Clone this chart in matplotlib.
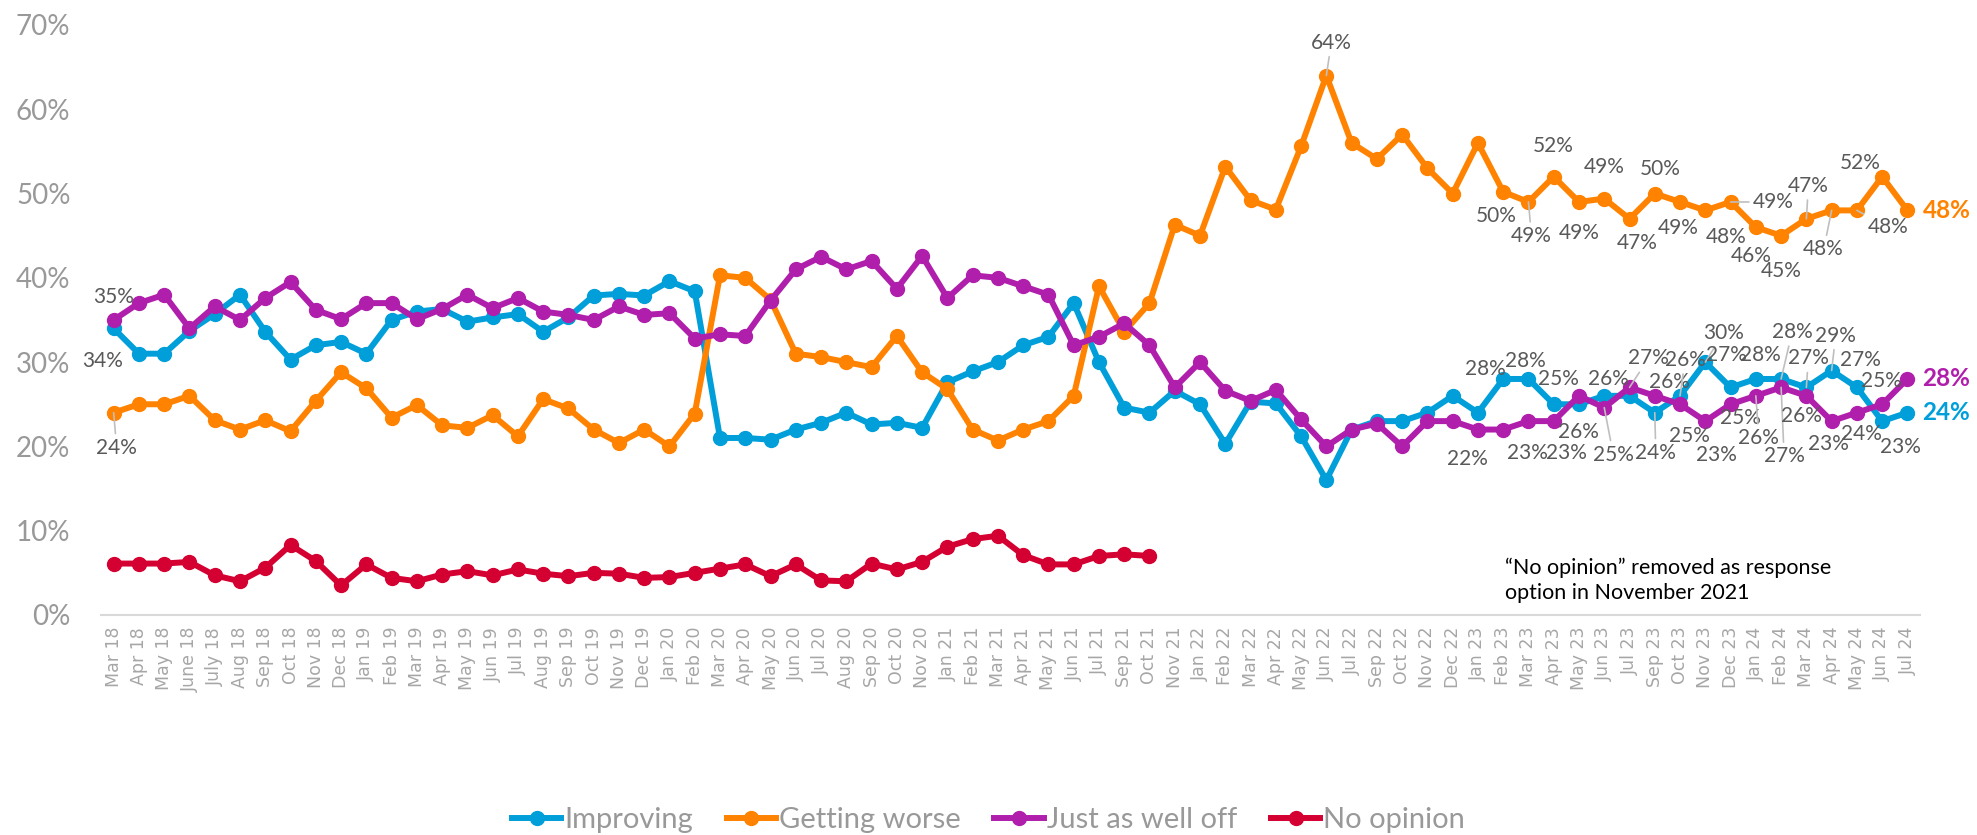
import numpy as np
import matplotlib
matplotlib.use("Agg")
import matplotlib.pyplot as plt
from matplotlib.lines import Line2D

months = ["Mar 18", "Apr 18", "May 18", "June 18", "July 18", "Aug 18", "Sep 18", "Oct 18", "Nov 18", "Dec 18",
          "Jan 19", "Feb 19", "Mar 19", "Apr 19", "May 19", "Jun 19", "Jul 19", "Aug 19", "Sep 19", "Oct 19",
          "Nov 19", "Dec 19", "Jan 20", "Feb 20", "Mar 20", "Apr 20", "May 20", "Jun 20", "Jul 20", "Aug 20",
          "Sep 20", "Oct 20", "Nov 20", "Jan 21", "Feb 21", "Mar 21", "Apr 21", "May 21", "Jun 21", "Jul 21",
          "Sep 21", "Oct 21", "Nov 21", "Jan 22", "Feb 22", "Mar 22", "Apr 22", "May 22", "Jun 22", "Jul 22",
          "Sep 22", "Oct 22", "Nov 22", "Dec 22", "Jan 23", "Feb 23", "Mar 23", "Apr 23", "May 23", "Jun 23",
          "Jul 23", "Sep 23", "Oct 23", "Nov 23", "Dec 23", "Jan 24", "Feb 24", "Mar 24", "Apr 24", "May 24",
          "Jun 24", "Jul 24"]

improving = [34, 31, 31, 33.7, 35.7, 38, 33.6, 30.3, 32, 32.4,
             31, 35, 36, 36.3, 34.8, 35.3, 35.7, 33.6, 35.3, 37.9,
             38.1, 37.9, 39.6, 38.4, 21, 21, 20.8, 22, 22.8, 24,
             22.6, 22.8, 22.2, 27.6, 28.9, 30, 32, 33, 37, 30,
             24.6, 24, 26.6, 25, 20.3, 25.3, 25.1, 21.2, 16, 22,
             23, 23, 24, 26, 24, 28, 28, 25, 25, 26,
             26, 24, 26, 30, 27, 28, 28, 27, 29, 27,
             23, 24]

getting_worse = [24, 25, 25, 26, 23.1, 22, 23.1, 21.8, 25.4, 28.8,
                 26.9, 23.4, 24.9, 22.5, 22.2, 23.7, 21.2, 25.6, 24.5, 22,
                 20.4, 22, 20, 23.9, 40.3, 40, 37.4, 31, 30.6, 30,
                 29.4, 33.1, 28.8, 26.8, 22, 20.7, 22, 23, 26, 39,
                 33.6, 37, 46.3, 45, 53.2, 49.2, 48.1, 55.6, 64, 56,
                 54.1, 57, 53, 50, 56, 50.2, 49, 52, 49, 49.4,
                 47, 50, 49, 48, 49, 46, 45, 47, 48, 48,
                 52, 48]

just_as_well = [35, 37, 38, 34, 36.6, 35, 37.6, 39.5, 36.2, 35.1,
                37, 37, 35.1, 36.3, 38, 36.4, 37.6, 36, 35.6, 35,
                36.6, 35.6, 35.8, 32.8, 33.3, 33.1, 37.3, 41, 42.5, 41,
                42, 38.7, 42.6, 37.6, 40.3, 40, 39, 38, 32, 33,
                34.6, 32, 27, 30, 26.6, 25.4, 26.7, 23.2, 20, 22,
                22.7, 20, 23, 23, 22, 22, 23, 23, 26, 24.6,
                27, 26, 25, 23, 25, 26, 27, 26, 23, 24,
                25, 28]

# "No opinion" dropped after Oct 21
no_opinion = [6.1, 6.1, 6.1, 6.3, 4.7, 4, 5.6, 8.3, 6.4, 3.5,
              6, 4.4, 4, 4.8, 5.2, 4.7, 5.4, 4.9, 4.6, 5,
              4.9, 4.4, 4.5, 5, 5.5, 6, 4.6, 6, 4.1, 4,
              6.1, 5.4, 6.3, 8.1, 9, 9.4, 7.1, 6, 6, 7,
              7.2, 7]

series = {
    "Improving": (improving, "#009FDA"),
    "Getting worse": (getting_worse, "#FF8300"),
    "Just as well off": (just_as_well, "#B01FAC"),
    "No opinion": (no_opinion, "#D50032"),
}

# data labels: (series, month index, dx px, dy px downwards, leader line)
labels = [
    ("Just as well off", 0, 0, -23, False),
    ("Improving", 0, -11, 33, False),
    ("Getting worse", 0, 3, 35, True),
    ("Getting worse", 48, 5, -33, True),
    ("Getting worse", 55, -7, 24, False),
    ("Getting worse", 56, 3, 34, True),
    ("Getting worse", 57, 0, -31, False),
    ("Getting worse", 58, 0, 31, False),
    ("Getting worse", 59, 0, -32, False),
    ("Getting worse", 60, 8, 24, False),
    ("Getting worse", 61, 5, -25, False),
    ("Getting worse", 62, -2, 26, False),
    ("Getting worse", 63, 21, 27, False),
    ("Getting worse", 64, 43, 0, True),
    ("Getting worse", 65, -5, 29, False),
    ("Getting worse", 66, 0, 35, False),
    ("Getting worse", 67, 2, -33, True),
    ("Getting worse", 68, -8, 39, True),
    ("Getting worse", 69, 31, 17, True),
    ("Getting worse", 70, -22, -14, False),
    ("Just as well off", 54, -10, 29, False),
    ("Improving", 55, -18, -10, False),
    ("Improving", 56, -3, -18, False),
    ("Improving", 57, 5, -25, False),
    ("Improving", 59, 4, -17, False),
    ("Just as well off", 58, -1, 36, False),
    ("Just as well off", 56, -1, 32, False),
    ("Just as well off", 57, 13, 32, False),
    ("Just as well off", 59, 9, 47, True),
    ("Just as well off", 60, 19, -29, True),
    ("Improving", 61, 1, 40, True),
    ("Just as well off", 61, 15, -14, False),
    ("Improving", 62, 5, -36, True),
    ("Just as well off", 62, 9, 32, False),
    ("Improving", 63, 18, -29, True),
    ("Just as well off", 63, 11, 34, False),
    ("Improving", 64, -4, -32, False),
    ("Just as well off", 64, 10, 14, False),
    ("Improving", 65, 5, -24, False),
    ("Just as well off", 65, 3, 42, True),
    ("Improving", 66, 11, -47, True),
    ("Just as well off", 66, 3, 69, True),
    ("Improving", 67, 2, -29, True),
    ("Just as well off", 67, -5, 20, False),
    ("Improving", 68, 4, -35, True),
    ("Just as well off", 68, -3, 23, False),
    ("Improving", 69, 4, -27, False),
    ("Just as well off", 69, 5, 21, False),
    ("Just as well off", 70, -1, -23, False),
    ("Improving", 70, 18, 26, False),
]

label_font = "Lato"
fig = plt.figure(figsize=(19.77, 8.35), dpi=100)
ax = fig.add_axes([0.0511, 0.2635, 0.9201, 0.7066])

x = np.arange(len(months))
for name, (vals, col) in series.items():
    ax.plot(x[:len(vals)], vals, color=col, lw=4.3, marker="o", ms=10, label=name, zorder=3)

for name, idx, dx, dy, leader in labels:
    v = series[name][0][idx]
    ap = dict(arrowstyle="-", color="#bfbfbf", lw=1.2, shrinkA=1, shrinkB=0) if leader else None
    ax.annotate(f"{round(v)}%", (idx, v), xytext=(dx, -dy), textcoords="offset pixels",
                ha="center", va="center", fontsize=15, color="#595959", family=label_font,
                arrowprops=ap, zorder=4)

# bold end-of-line labels
for name in ["Getting worse", "Just as well off", "Improving"]:
    vals, col = series[name]
    ax.annotate(f"{round(vals[-1])}%", (len(vals) - 1, vals[-1]), xytext=(15, 0), textcoords="offset pixels",
                ha="left", va="center", fontsize=17.5, fontweight="bold", color=col, family=label_font)

ax.set_xlim(-0.5, len(months) - 0.5)
ax.set_ylim(0, 70)
ax.set_yticks(range(0, 71, 10))
ax.set_yticklabels([f"{t}%" for t in range(0, 71, 10)], family=label_font, fontsize=20, color="#999999")
ax.set_xticks(x)
ax.set_xticklabels(months, rotation=90, fontsize=12.5, color="#a6a6a6")
ax.tick_params(axis="y", length=0, pad=22)
ax.tick_params(axis="x", length=0, pad=8.5)
for s in ["top", "right", "left"]:
    ax.spines[s].set_visible(False)
ax.spines["bottom"].set_color("#d9d9d9")
ax.spines["bottom"].set_linewidth(1.5)

fig.text(0.7613, 0.305, "\u201cNo opinion\u201d removed as response\noption in November 2021",
         family=label_font, fontsize=15.5, color="black", va="center", ha="left", linespacing=1.35)

handles = [Line2D([], [], color=c, lw=4.3, marker="o", ms=10) for _, (v, c) in series.items()]
fig.legend(handles, list(series.keys()), loc="center", bbox_to_anchor=(0.5, 0.018), ncol=4,
           frameon=False, prop=dict(family=label_font, size=21), labelcolor="#999999",
           handlelength=1.7, handletextpad=0.1, columnspacing=1.15)

fig.savefig("out.png", dpi=100)
